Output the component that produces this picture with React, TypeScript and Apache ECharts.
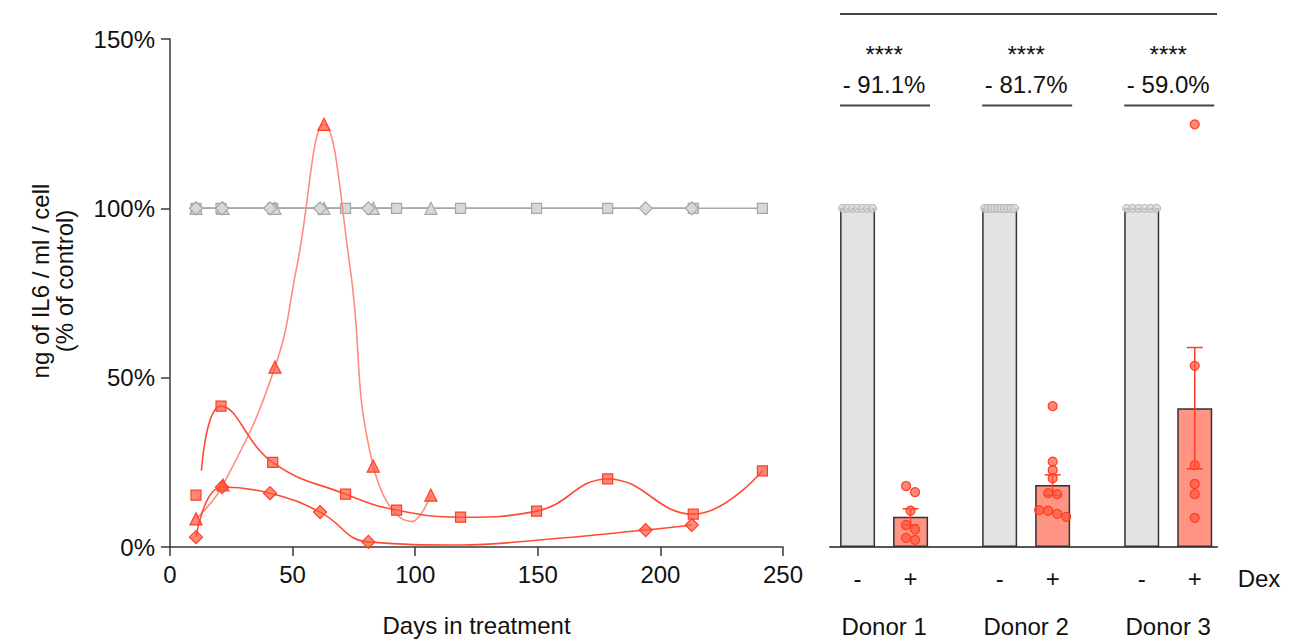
import React, { useEffect, useRef } from 'react';
import * as echarts from 'echarts';

const FONT = '"Liberation Sans", Arial, Helvetica, sans-serif';
const TEXT = '#111111';

// ---------- Left panel: time course (days, % of control) ----------
const squareDays = [10.6, 20.8, 41.9, 71.6, 92.4, 118.5, 149.5, 178.5, 213.4, 241.6];
const squareDex = [15.3, 41.6, 25.0, 15.6, 10.9, 8.8, 10.6, 20.1, 9.7, 22.5];
const squareCtrl = [100, 100, 100, 100, 100, 100, 100, 100, 100, 100];
const squareFitDays = [12.8, 20.8, 41.9, 71.6, 92.4, 118.5, 149.5, 178.5, 213.4, 241.6];
const squareFit = [22.5, 41.6, 25.0, 15.6, 10.9, 8.8, 10.6, 20.1, 9.7, 22.5];

const triangleDays = [10.6, 21.6, 42.8, 62.8, 82.9, 106.4];
const triangleDex = [8.3, 18.3, 53.1, 124.8, 23.9, 15.3];
const triangleCtrl = [100, 100, 100, 100, 100, 100];
const triangleFitDays = [10.6, 21.6, 42.8, 51.7, 62.8, 73.4, 82.9, 98.6, 106.4];
const triangleFit = [8.3, 18.3, 53.1, 82.7, 124.8, 82.7, 23.9, 7.5, 15.3];

const diamondDays = [10.6, 21.2, 40.8, 61.2, 80.9, 194.0, 212.8];
const diamondDex = [2.9, 17.7, 15.9, 10.3, 1.5, 5.0, 6.5];
const diamondCtrl = [100, 100, 100, 100, 100, 100, 100];
const diamondFitDays = [10.6, 21.2, 40.8, 61.2, 80.9, 118.0, 149.5, 194.0, 212.8];
const diamondFit = [2.9, 17.7, 15.9, 10.3, 1.5, 0.6, 2.0, 5.0, 6.5];

// ---------- Right panel: bars per donor ----------
const donors = ['Donor 1', 'Donor 2', 'Donor 3'];
const treatLabels = ['-', '+'];
const controlMean = [100, 100, 100];
const dexMean = [8.9, 18.3, 41.0];
const dexSEM = [2.4, 3.0, 17.9];
const significance = ['****', '****', '****'];
const dexDots = [
  [18.0, 16.2, 10.7, 6.5, 5.2, 2.7, 2.1],
  [41.6, 25.2, 22.7, 20.3, 15.9, 15.6, 10.9, 10.7, 9.8, 8.9],
  [124.8, 53.5, 24.2, 18.6, 15.6, 8.6],
];
const controlDots = [
  [100, 100, 100, 100, 100, 100, 100],
  [100, 100, 100, 100, 100, 100, 100, 100, 100, 100],
  [100, 100, 100, 100, 100, 100],
];

// layout of right panel (units: one unit between "-" and "+" bars)
const DONOR_STEP = 2.68;
const XMIN = -0.52;
const XMAX = 6.78;
const pos = (d: number, t: number) => d * DONOR_STEP + t;

const zip = (xs: number[], ys: number[]) => xs.map((x, i) => [x, ys[i]]);

// simple scatter-dot-plot spreading: points close in value share a row
function swarm(values: number[]): number[] {
  const thr = 2.06; // % units (~7 px)
  const idx = values.map((v, i) => i).sort((a, b) => values[b] - values[a]);
  const offsets = new Array(values.length).fill(0);
  let group: number[] = [];
  const flush = () => {
    const n = group.length;
    if (n > 1) {
      const step = Math.min(0.17, 0.566 / (n - 1));
      group.forEach((gi, k) => (offsets[gi] = (k - (n - 1) / 2) * step));
    }
    group = [];
  };
  idx.forEach((i) => {
    if (group.length && values[group[0]] - values[i] > thr) flush();
    group.push(i);
  });
  flush();
  return offsets;
}

const RED = '#ff3d24';
const RED_FILL = 'rgba(255,85,60,0.7)';
const GRAY_FILL = '#d8d8d8';
const GRAY_STROKE = '#a6a6a6';

export default function App() {
  const ref = useRef<HTMLDivElement>(null);
  useEffect(() => {
    const el = ref.current;
    if (!el) return;
    const chart = echarts.init(el, null, { renderer: 'svg' });

    const axisCommon = {
      axisLine: { show: true, lineStyle: { color: '#3a3a3a', width: 1.5 } },
      axisTick: { show: true, length: 9, inside: false, lineStyle: { color: '#3a3a3a', width: 1.5 } },
      splitLine: { show: false },
    };

    const ctrlSeries = (days: number[], vals: number[], symbol: string, size: number) => ({
      type: 'line',
      xAxisIndex: 0,
      yAxisIndex: 0,
      data: zip(days, vals),
      symbol,
      symbolSize: size,
      showSymbol: true,
      itemStyle: { color: GRAY_FILL, borderColor: GRAY_STROKE, borderWidth: 1.2 },
      lineStyle: { color: '#a8a8a8', width: 1.5 },
      z: 2,
    });
    const fitSeries = (days: number[], vals: number[], color: string, smooth: number) => ({
      type: 'line',
      xAxisIndex: 0,
      yAxisIndex: 0,
      data: zip(days, vals),
      symbol: 'none',
      showSymbol: false,
      smooth,
      lineStyle: { color, width: 1.6 },
      z: 3,
    });
    const markSeries = (days: number[], vals: number[], symbol: string, size: number) => ({
      type: 'scatter',
      xAxisIndex: 0,
      yAxisIndex: 0,
      data: zip(days, vals),
      symbol,
      symbolSize: size,
      itemStyle: { color: RED_FILL, borderColor: RED, borderWidth: 1.2, opacity: 1 },
      z: 4,
    });

    const barData: any[] = [];
    donors.forEach((_, d) => {
      barData.push({ value: [pos(d, 0), controlMean[d]], itemStyle: { color: '#e3e3e3' } });
      barData.push({ value: [pos(d, 1), dexMean[d]], itemStyle: { color: '#ff9482' } });
    });
    const grayDotData: number[][] = [];
    const redDotData: number[][] = [];
    donors.forEach((_, d) => {
      const go = swarm(controlDots[d]);
      controlDots[d].forEach((v, i) => grayDotData.push([pos(d, 0) + go[i], v]));
      const ro = swarm(dexDots[d]);
      dexDots[d].forEach((v, i) => redDotData.push([pos(d, 1) + ro[i], v]));
    });
    const errData = donors.map((_, d) => [pos(d, 1), dexMean[d], dexSEM[d]]);

    const option: any = {
      animation: false,
      backgroundColor: '#ffffff',
      textStyle: { fontFamily: FONT },
      grid: [
        { left: 170, top: 39, width: 613, height: 508, containLabel: false, outerBoundsMode: 'none' },
        { left: 830, top: 39, width: 387, height: 508, containLabel: false, outerBoundsMode: 'none' },
      ],
      xAxis: [
        {
          type: 'value',
          gridIndex: 0,
          min: 0,
          max: 250,
          interval: 50,
          ...axisCommon,
          axisLabel: { color: TEXT, fontSize: 24, fontFamily: FONT, margin: 15 },
          name: 'Days in treatment',
          nameLocation: 'middle',
          nameGap: 66,
          nameTextStyle: { color: TEXT, fontSize: 24, fontFamily: FONT },
        },
        {
          type: 'value',
          gridIndex: 1,
          min: XMIN,
          max: XMAX,
          axisLine: { show: true, lineStyle: { color: '#555555', width: 2 } },
          axisTick: { show: false },
          axisLabel: { show: false },
          splitLine: { show: false },
        },
      ],
      yAxis: [
        {
          type: 'value',
          gridIndex: 0,
          min: 0,
          max: 150,
          interval: 50,
          ...axisCommon,
          axisLabel: { color: TEXT, fontSize: 24, fontFamily: FONT, margin: 15, formatter: '{value}%' },
        },
        {
          type: 'value',
          gridIndex: 1,
          min: 0,
          max: 150,
          show: false,
          splitLine: { show: false },
        },
      ],
      series: [
        ctrlSeries(squareDays, squareCtrl, 'rect', 10),
        ctrlSeries(triangleDays, triangleCtrl, 'triangle', 12),
        ctrlSeries(diamondDays, diamondCtrl, 'diamond', 13),
        fitSeries(triangleFitDays, triangleFit, '#ff8c80', 0.45),
        fitSeries(squareFitDays, squareFit, '#ff4b33', 0.45),
        fitSeries(diamondFitDays, diamondFit, '#ff4b33', 0.45),
        markSeries(squareDays, squareDex, 'rect', 10),
        markSeries(triangleDays, triangleDex, 'triangle', 12),
        markSeries(diamondDays, diamondDex, 'diamond', 13),
        {
          type: 'bar',
          xAxisIndex: 1,
          yAxisIndex: 1,
          data: barData,
          barWidth: 35,
          itemStyle: { borderColor: '#333333', borderWidth: 1.5 },
          z: 2,
        },
        {
          type: 'custom',
          xAxisIndex: 1,
          yAxisIndex: 1,
          data: errData,
          encode: { x: 0, y: 1 },
          renderItem: (params: any, api: any) => {
            const x = api.value(0);
            const m = api.value(1);
            const s = api.value(2);
            const top = api.coord([x, m + s]);
            const bot = api.coord([x, m - s]);
            const hw = 8;
            const style = { stroke: RED, lineWidth: 1.5 };
            return {
              type: 'group',
              children: [
                { type: 'line', shape: { x1: top[0], y1: top[1], x2: bot[0], y2: bot[1] }, style },
                { type: 'line', shape: { x1: top[0] - hw, y1: top[1], x2: top[0] + hw, y2: top[1] }, style },
                { type: 'line', shape: { x1: bot[0] - hw, y1: bot[1], x2: bot[0] + hw, y2: bot[1] }, style },
              ],
            };
          },
          z: 3,
        },
        {
          type: 'scatter',
          xAxisIndex: 1,
          yAxisIndex: 1,
          data: grayDotData,
          symbol: 'circle',
          symbolSize: 8,
          itemStyle: { color: GRAY_FILL, borderColor: GRAY_STROKE, borderWidth: 1 },
          z: 4,
        },
        {
          type: 'scatter',
          xAxisIndex: 1,
          yAxisIndex: 1,
          data: redDotData,
          symbol: 'circle',
          symbolSize: 9,
          itemStyle: { color: RED_FILL, borderColor: RED, borderWidth: 1.2, opacity: 1 },
          z: 4,
        },
      ],
    };
    chart.setOption(option);

    const px = (x: number, y: number) => chart.convertToPixel({ gridIndex: 1 } as any, [x, y]) as number[];
    const half = 17.5;
    const txt = (x: number, y: number, text: string, extra: any = {}) => ({
      type: 'text',
      x,
      y,
      style: {
        text,
        fontSize: 24,
        fontFamily: FONT,
        fill: TEXT,
        align: 'center',
        verticalAlign: 'middle',
        ...extra,
      },
    });
    const ln = (x1: number, x2: number, y: number) => ({
      type: 'line',
      shape: { x1, y1: y, x2, y2: y },
      style: { stroke: '#444444', lineWidth: 2 },
    });
    const right = px(XMAX, 0)[0];
    const graphics: any[] = [];
    graphics.push(ln(px(pos(0, 0), 0)[0] - half, right, 14));
    donors.forEach((name, d) => {
      const xm = px(pos(d, 0), 0)[0];
      const xp = px(pos(d, 1), 0)[0];
      const c = (xm + xp) / 2;
      graphics.push(txt(c, 54, significance[d]));
      graphics.push(txt(c, 84, '- ' + (100 - dexMean[d]).toFixed(1) + '%'));
      graphics.push(ln(xm - half, xp + half + 2, 105.5));
      graphics.push(txt(xm, 578, treatLabels[0]));
      graphics.push(txt(xp, 578, treatLabels[1]));
      graphics.push(txt(c, 626, name));
    });
    graphics.push(txt(right + 42, 578, 'Dex'));
    graphics.push({
      type: 'text',
      x: 52,
      y: 281,
      rotation: Math.PI / 2,
      style: {
        text: 'ng of IL6 / ml / cell\n(% of control)',
        fontSize: 24,
        lineHeight: 24,
        fontFamily: FONT,
        fill: TEXT,
        align: 'center',
        verticalAlign: 'middle',
      },
    });
    chart.setOption({ graphic: graphics });

    return () => chart.dispose();
  }, []);
  return <div ref={ref} style={{ position: 'absolute', left: 0, top: 0, width: 1299, height: 644 }} />;
}
